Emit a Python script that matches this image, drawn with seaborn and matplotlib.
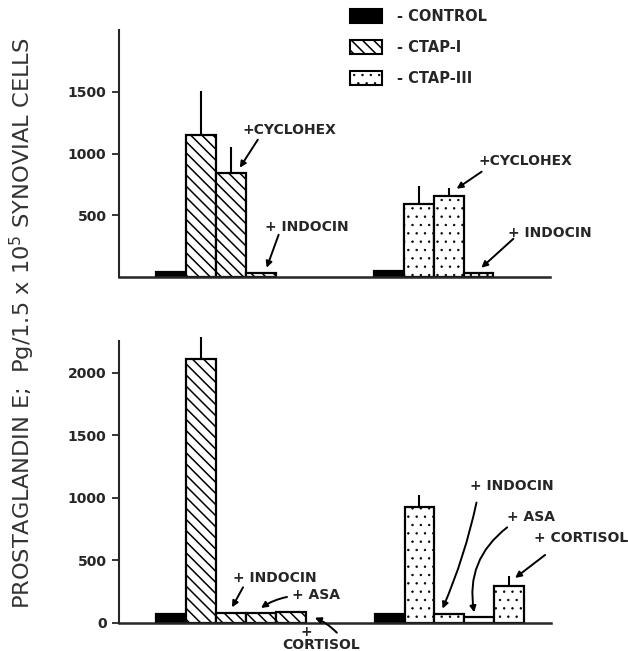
import numpy as np
import pandas as pd
import matplotlib
matplotlib.use("Agg")
import matplotlib.pyplot as plt
from matplotlib.patches import Patch
import seaborn as sns

# ---------------- data ----------------
top_kind = ["CONTROL", "CTAP-I", "CTAP-I", "CTAP-I",
            "CONTROL", "CTAP-III", "CTAP-III", "CTAP-III"]
top_values = [40, 1150, 845, 35, 45, 595, 655, 35]
top_err_top = [np.nan, 1510, 1050, np.nan, np.nan, 740, 718, np.nan]

bottom_kind = ["CONTROL", "CTAP-I", "CTAP-I", "CTAP-I", "CTAP-I",
               "CONTROL", "CTAP-III", "CTAP-III", "CTAP-III", "CTAP-III"]
bottom_values = [75, 2105, 80, 80, 85, 70, 925, 70, 50, 295]
bottom_err_top = [np.nan, 2285, np.nan, np.nan, np.nan,
                  np.nan, 1020, np.nan, np.nan, 375]

legend_labels = ["- CONTROL", "- CTAP-I", "- CTAP-III"]
top_yticks = [500, 1000, 1500]
bottom_yticks = [0, 500, 1000, 1500, 2000]
ylabel = r"PROSTAGLANDIN E;  Pg/1.5 x 10$^5$ SYNOVIAL CELLS"

# ---------------- style ----------------
sns.set_style("ticks")
plt.rcParams["font.family"] = ["DejaVu Sans"]
plt.rcParams["hatch.linewidth"] = 1.1

palette = {"CONTROL": "black", "CTAP-I": "white", "CTAP-III": "white"}
hatches = {"CONTROL": "", "CTAP-I": "\\\\\\", "CTAP-III": ".."}
hatch_lw = {"CONTROL": 1.0, "CTAP-I": 1.1, "CTAP-III": 0.5}

W, H = 628, 651
fig = plt.figure(figsize=(W / 100, H / 100), dpi=100)

def fx(px):
    return px / W

def fy(py):
    return 1 - py / H

ax_top = fig.add_axes([fx(119), fy(277), fx(550 - 119), (277 - 30) / H])
ax_bot = fig.add_axes([fx(119), fy(623), fx(551 - 119), (623 - 335) / H])


def group_positions(kinds):
    # two groups of bars, separated by a gap
    pos = []
    g = -1
    i = 0
    for k in kinds:
        if k == "CONTROL":
            g += 1
            i = 0
        pos.append(g * 7.3 + i)
        i += 1
    return np.array(pos)


def style_patch(p, kind):
    p.set_hatch(hatches[kind])
    p.set_edgecolor("black")
    if hasattr(p, "set_hatch_linewidth"):
        p.set_hatch_linewidth(hatch_lw[kind])


def draw_panel(ax, kinds, values, err_top, ylim, yticks):
    pos = group_positions(kinds)
    df = pd.DataFrame({"pos": pos, "value": values, "kind": kinds})
    sns.barplot(data=df, x="pos", y="value", hue="kind", palette=palette,
                native_scale=True, dodge=False, width=1.0, saturation=1,
                edgecolor="black", linewidth=1.6, legend=False, ax=ax,
                errorbar=None)
    for p in ax.patches:
        cx = p.get_x() + p.get_width() / 2
        idx = int(np.argmin(np.abs(pos - cx)))
        style_patch(p, kinds[idx])
    err = np.array(err_top, dtype=float)
    vals = np.array(values, dtype=float)
    m = ~np.isnan(err)
    ax.vlines(pos[m], vals[m], err[m], color="black", lw=1.5)
    ax.set_xlim(-1.75, 12.7)
    ax.set_ylim(*ylim)
    ax.set_yticks(yticks)
    ax.set_xticks([])
    ax.set_xlabel("")
    ax.set_ylabel("")
    sns.despine(ax=ax)
    ax.spines["left"].set_linewidth(1.5)
    ax.spines["bottom"].set_linewidth(1.8)
    ax.tick_params(axis="y", direction="out", length=5, width=1.3,
                   labelsize=10, pad=4)
    for t in ax.get_yticklabels():
        t.set_fontweight("bold")
    return pos


pos_top = draw_panel(ax_top, top_kind, top_values, top_err_top, (0, 2000), top_yticks)
pos_bot = draw_panel(ax_bot, bottom_kind, bottom_values, bottom_err_top, (0, 2300), bottom_yticks)
ax_bot.spines["left"].set_bounds(0, 2250)

FS = 10


def note(ax, label, tip, tail_off, text_off, rad=0.0, ha="left"):
    ax.annotate("", xy=tip, xytext=tail_off, textcoords="offset pixels",
                arrowprops=dict(arrowstyle="-|>", color="black", lw=1.4,
                                mutation_scale=9, shrinkA=0, shrinkB=0,
                                connectionstyle=f"arc3,rad={rad}"))
    ax.annotate(label, xy=tip, xytext=text_off, textcoords="offset pixels",
                ha=ha, va="center", fontsize=FS, fontweight="bold")


tv = top_values
note(ax_top, "+CYCLOHEX", (pos_top[2] + 0.3, tv[2] + 40), (18, 28), (3, 38))
note(ax_top, "+ INDOCIN", (pos_top[3] + 0.2, tv[3] + 40), (12, 33), (-2, 41))
note(ax_top, "+CYCLOHEX", (pos_top[6] + 0.27, tv[6] + 60), (25, 17), (22, 28))
note(ax_top, "+ INDOCIN", (pos_top[7] + 0.1, tv[7] + 40), (32, 29), (27, 35))

bv = bottom_values
note(ax_bot, "+ INDOCIN", (pos_bot[2] + 0.03, bv[2] + 45), (11, 20), (1, 29))
note(ax_bot, "+ ASA", (pos_bot[3], bv[3] + 40), (26, 11), (31, 13), rad=0.1)
note(ax_bot, "CORTISOL", (pos_bot[4] + 0.8, bv[4] * 0.5), (22, -15), (6, -27),
     rad=0.1, ha="center")
ax_bot.annotate("+", xy=(pos_bot[4] + 0.8, bv[4] * 0.5), xytext=(-9, -14),
                textcoords="offset pixels", ha="center", va="center",
                fontsize=FS, fontweight="bold")
note(ax_bot, "+ INDOCIN", (pos_bot[7] - 0.23, bv[7] + 45), (34, 106), (28, 123), rad=-0.05)
note(ax_bot, "+ ASA", (pos_bot[8] - 0.17, bv[8] + 35), (33, 85), (33, 95), rad=0.3)
note(ax_bot, "+ CORTISOL", (pos_bot[9] + 0.2, bv[9] + 65), (30, 23), (19, 40))

# legend
handles = [Patch(facecolor=palette[k], edgecolor="black", hatch=hatches[k], linewidth=1.5)
           for k in ["CONTROL", "CTAP-I", "CTAP-III"]]
leg = fig.legend(handles, legend_labels, loc="upper left",
                 bbox_to_anchor=(fx(337), fy(-4)), frameon=False,
                 prop=dict(size=10.5, weight="bold"), handlelength=2.2,
                 handleheight=1.05, labelspacing=1.1, handletextpad=1.0)
for h, k in zip(leg.get_patches(), ["CONTROL", "CTAP-I", "CTAP-III"]):
    if hasattr(h, "set_hatch_linewidth"):
        h.set_hatch_linewidth(hatch_lw[k])

fig.text(fx(22), fy(323), ylabel, rotation=90, ha="center", va="center",
         fontsize=16.2, color="#333333")

fig.savefig("out.png", dpi=100)
